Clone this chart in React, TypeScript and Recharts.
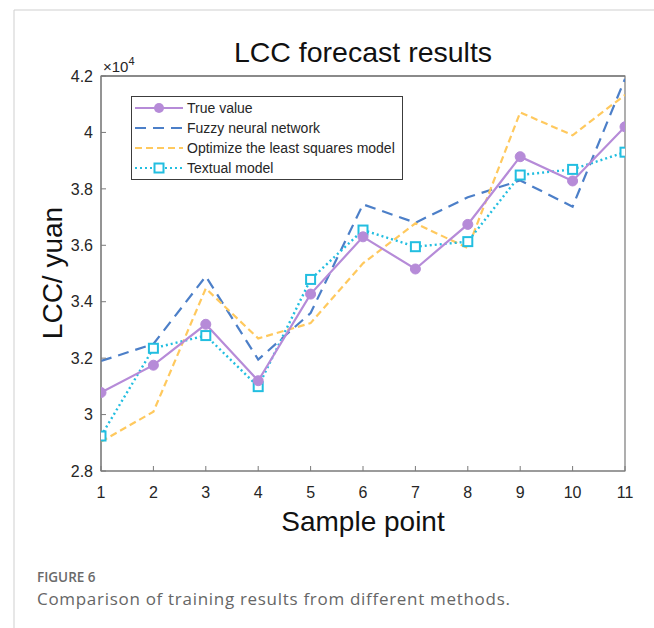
import React from 'react';
import { LineChart, Line, XAxis, YAxis, Legend, ReferenceArea } from 'recharts';

const samplePoints = [1, 2, 3, 4, 5, 6, 7, 8, 9, 10, 11];
const trueValue = [30780, 31750, 33200, 31200, 34270, 36300, 35160, 36740, 39140, 38280, 40200];
const fuzzyNeuralNetwork = [31900, 32500, 34900, 31950, 33600, 37450, 36800, 37700, 38300, 37370, 41900];
const leastSquaresModel = [29040, 30100, 34470, 32700, 33240, 35360, 36780, 35900, 40710, 39900, 41330];
const textualModel = [29240, 32350, 32800, 30990, 34790, 36540, 35950, 36130, 38490, 38690, 39300];
const yTicks = [28000, 30000, 32000, 34000, 36000, 38000, 40000, 42000];
const xTicks = samplePoints;
const Y_MIN = 28000;
const Y_MAX = 42000;
const X_MIN = 1;
const X_MAX = 11;

const PURPLE = '#B68BD8';
const BLUE = '#4C7FC8';
const YELLOW = '#FFC95E';
const CYAN = '#22BEE0';
const AXIS = '#7a7a7a';
const TEXT = '#262626';
const FONT = '"Liberation Sans", Arial, Helvetica, sans-serif';
const CAPTION_FONT = '"Open Sans", "Noto Sans", sans-serif';

// plot-frame layout
const PLOT_LEFT = 101;
const PLOT_RIGHT = 625;
const PLOT_TOP = 76;

const data = samplePoints.map((x, i) => ({
  x,
  trueValue: trueValue[i],
  fuzzy: fuzzyNeuralNetwork[i],
  lsq: leastSquaresModel[i],
  textual: textualModel[i],
}));

const series = [
  { key: 'trueValue', name: 'True value', color: PURPLE, dash: undefined as string | undefined, marker: 'circle' },
  { key: 'fuzzy', name: 'Fuzzy neural network', color: BLUE, dash: '11 7', marker: 'none' },
  { key: 'lsq', name: 'Optimize the least squares model', color: YELLOW, dash: '7 4', marker: 'none' },
  { key: 'textual', name: 'Textual model', color: CYAN, dash: '2 3', marker: 'square' },
];

const SquareDot = (props: any) => {
  const { cx, cy, index } = props;
  if (cx == null || cy == null) return <g key={`sq-${index}`} />;
  return (
    <rect key={`sq-${index}`} x={cx - 4.5} y={cy - 4.5} width={9} height={9}
      fill="#ffffff" stroke={CYAN} strokeWidth={2} strokeDasharray="none" />
  );
};

const LegendBox = () => (
  <div style={{ width: 272, height: 84, border: '1px solid #3c3c3c', background: '#fff', boxSizing: 'border-box', fontFamily: FONT }}>
    <svg width={270} height={82}>
      {series.map((s, i) => {
        const y = 11 + i * 20;
        return (
          <g key={s.key}>
            <line x1={3} x2={51} y1={y} y2={y} stroke={s.color} strokeWidth={2.2} strokeDasharray={s.dash} />
            {s.marker === 'circle' && <circle cx={27} cy={y} r={5} fill={PURPLE} />}
            {s.marker === 'square' && (
              <rect x={22.5} y={y - 4.5} width={9} height={9} fill="#fff" stroke={CYAN} strokeWidth={2} />
            )}
            <text x={55} y={y + 5} fontSize={14} fill={TEXT} fontFamily={FONT}>{s.name}</text>
          </g>
        );
      })}
    </svg>
  </div>
);

export default function App() {
  return (
    <div style={{ position: 'absolute', left: 0, top: 0, width: 654, height: 628, background: '#fff' }}>
      <LineChart width={654} height={628} data={data} margin={{ top: 56, right: 29, bottom: 127, left: 0 }}>
        <ReferenceArea x1={X_MIN} x2={X_MAX} y1={Y_MIN} y2={Y_MAX} fill="none" fillOpacity={0}
          stroke={AXIS} strokeWidth={1.2} ifOverflow="visible" />
        <XAxis dataKey="x" type="number" domain={[X_MIN, X_MAX]} ticks={xTicks} allowDataOverflow
          height={30} stroke={AXIS} tickSize={-5} tickMargin={21}
          tick={{ fill: TEXT, fontSize: 16, fontFamily: FONT }} interval={0} />
        <XAxis xAxisId="top" orientation="top" dataKey="x" type="number" domain={[X_MIN, X_MAX]} ticks={xTicks}
          allowDataOverflow height={20} stroke={AXIS} tickSize={-5} tick={false} interval={0} />
        <YAxis type="number" domain={[Y_MIN, Y_MAX]} ticks={yTicks} allowDataOverflow width={101}
          stroke={AXIS} tickSize={-5} tickMargin={13} interval={0}
          tickFormatter={(v: number) => String(v / 10000)}
          tick={{ fill: TEXT, fontSize: 16, fontFamily: FONT }} />
        <YAxis yAxisId="right" orientation="right" type="number" domain={[Y_MIN, Y_MAX]} ticks={yTicks}
          allowDataOverflow width={0} stroke={AXIS} tickSize={-5} tick={false} interval={0} />
        <Legend layout="horizontal" verticalAlign="middle" align="center"
          wrapperStyle={{ top: 96, left: 131, bottom: 'auto', right: 'auto', width: 272, height: 84 }}
          content={() => <LegendBox />} />
        <Line dataKey="fuzzy" name="Fuzzy neural network" xAxisId="top" stroke={BLUE} strokeWidth={2.2}
          strokeDasharray="11 7" dot={false} isAnimationActive={false} />
        <Line dataKey="lsq" name="Optimize the least squares model" yAxisId="right" stroke={YELLOW} strokeWidth={2.2}
          strokeDasharray="7 4" dot={false} isAnimationActive={false} />
        <Line dataKey="textual" name="Textual model" stroke={CYAN} strokeWidth={2.4}
          strokeDasharray="2 3" dot={<SquareDot />} isAnimationActive={false} />
        <Line dataKey="trueValue" name="True value" stroke={PURPLE} strokeWidth={2.2}
          dot={{ r: 5, fill: PURPLE, stroke: PURPLE, strokeWidth: 1 }} isAnimationActive={false} />
      </LineChart>
      <svg width={654} height={628} style={{ position: 'absolute', left: 0, top: 0, pointerEvents: 'none' }}>
        <line x1={14} x2={654} y1={10} y2={10} stroke="#cfcfcf" strokeWidth={1} />
        <line x1={14} x2={14} y1={10} y2={628} stroke="#cfcfcf" strokeWidth={1} />
        <line x1={PLOT_LEFT} x2={PLOT_RIGHT} y1={PLOT_TOP} y2={PLOT_TOP} stroke={AXIS} strokeWidth={1.2} />
        <text x={363} y={62} textAnchor="middle" fontSize={28.5} fill="#111" fontFamily={FONT}>LCC forecast results</text>
        <text x={103} y={72} fontSize={15} fill={TEXT} fontFamily={FONT}>×10<tspan dy={-7} fontSize={11}>4</tspan></text>
        <text x={363} y={531} textAnchor="middle" fontSize={28} fill="#111" fontFamily={FONT}>Sample point</text>
        <text x={62} y={273} textAnchor="middle" fontSize={28} fill="#111" fontFamily={FONT}
          transform="rotate(-90 62 273)">LCC/ yuan</text>
        <text x={37} y={582} fontSize={13.5} fill="#6a6a6a" fontWeight={600} fontFamily={CAPTION_FONT}>FIGURE 6</text>
        <text x={37} y={605} fontSize={17} fill="#666" letterSpacing={0.7} fontFamily={CAPTION_FONT}>Comparison of training results from different methods.</text>
      </svg>
    </div>
  );
}
